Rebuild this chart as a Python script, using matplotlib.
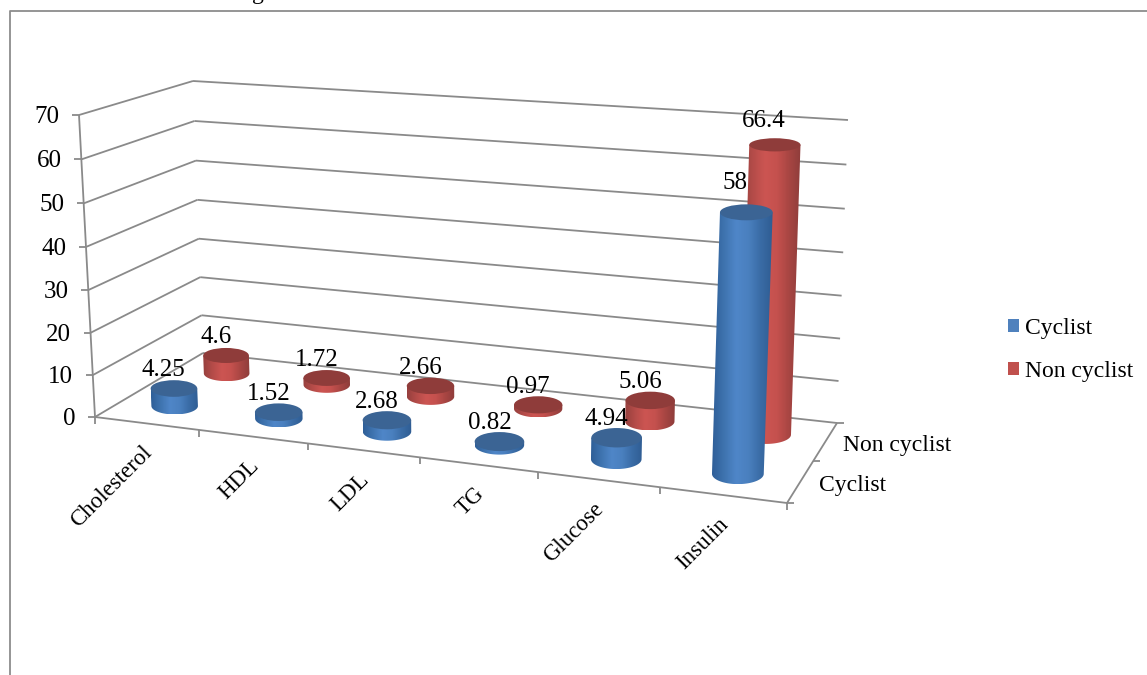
import numpy as np
import matplotlib
matplotlib.use("Agg")
import matplotlib.pyplot as plt
from matplotlib.patches import Ellipse, PathPatch, Patch
from matplotlib.path import Path
from matplotlib.colors import LinearSegmentedColormap

categories = ["Cholesterol", "HDL", "LDL", "TG", "Glucose", "Insulin"]
series_names = ["Cyclist", "Non cyclist"]
cyclist = [4.25, 1.52, 2.68, 0.82, 4.94, 58]
non_cyclist = [4.6, 1.72, 2.66, 0.97, 5.06, 66.4]
value_labels_c = ["4.25", "1.52", "2.68", "0.82", "4.94", "58"]
value_labels_n = ["4.6", "1.72", "2.66", "0.97", "5.06", "66.4"]
y_ticks = [0, 10, 20, 30, 40, 50, 60, 70]

plt.rcParams["font.family"] = ["Liberation Serif", "DejaVu Serif"]
FS = 17
FS_V = 18
GRID = "#8a8a8a"
LW = 1.3


def homography(pix):
    world = [(0, 0), (6, 0), (6, 2), (0, 2)]
    A, b = [], []
    for (X, Y), (u, v) in zip(world, pix):
        A.append([X, Y, 1, 0, 0, 0, -u * X, -u * Y]); b.append(u)
        A.append([0, 0, 0, X, Y, 1, -v * X, -v * Y]); b.append(v)
    return np.append(np.linalg.solve(np.array(A, float), np.array(b, float)), 1).reshape(3, 3)


# Perspective of the chart box: floor plane, plus the screen offset of value 70 at each floor corner
H_FLOOR = homography([(95, 417), (787, 503), (837, 423), (203, 353)])
LIFT = np.array([[(-16, -302), (-10, -272)], [(13, -325), (11, -303)]], float)
ZMAX = 70.0
K = 0.034


def proj(x, y, z):
    t = z / ZMAX
    t = t * (1 - K * (1 - t))
    a = H_FLOOR @ np.array([x, y, 1.0])
    a = a[:2] / a[2]
    u, w = x / 6.0, y / 2.0
    lift = ((1 - u) * (1 - w) * LIFT[0, 0] + (1 - u) * w * LIFT[0, 1]
            + u * (1 - w) * LIFT[1, 0] + u * w * LIFT[1, 1])
    return tuple(a + lift * t)


fig = plt.figure(figsize=(11.47, 6.75), dpi=100, facecolor="white")
ax = fig.add_axes([0, 0, 1, 1])
ax.set_xlim(0, 1147)
ax.set_ylim(675, 0)
ax.axis("off")
ax.set_autoscale_on(False)


def line(p, q, lw=LW, z=1):
    ax.plot([p[0], q[0]], [p[1], q[1]], color=GRID, lw=lw, zorder=z, solid_capstyle="butt")


# outer frame and the text fragment above it
ax.plot([10, 10, 1147], [675, 11, 11], color="#8c8c8c", lw=1.3, zorder=1)
ax.text(252, -1, "g", fontsize=FS, color="black", va="baseline", ha="left", clip_on=False)

# walls / floor
for v in y_ticks:
    a, c, d = proj(0, 0, v), proj(0, 2, v), proj(6, 2, v)
    line(a, c)
    line(c, d)
    line((a[0] - 7, a[1]), a)
    ax.text(a[0] - 19.5, a[1] + 2, str(v), ha="right", va="center", fontsize=FS_V, zorder=6)
line(proj(0, 0, 0), proj(0, 0, 70))
line(proj(0, 0, 0), proj(6, 0, 0), z=2)
line(proj(6, 0, 0), proj(6, 2, 0), z=2)
for i in range(7):
    p = proj(i, 0, 0)
    line(p, (p[0], p[1] + 7), z=2)
for j in range(3):
    p = proj(6, j, 0)
    line(p, (p[0] + 7, p[1]), z=2)

# category and series labels
for i, c in enumerate(categories):
    p = proj(i + 0.5, 0, 0)
    ax.text(p[0] - 5, p[1] + 19, c, rotation=45, rotation_mode="anchor",
            ha="right", va="top", fontsize=16.5, zorder=6)
for j, s in enumerate(series_names):
    p = proj(6, j + 0.5, 0)
    ax.text(p[0] + 18, p[1] + 4, s, ha="left", va="center", fontsize=FS, zorder=6)

blue = LinearSegmentedColormap.from_list("b", ["#2f5f98", "#3f74b0", "#4f86c8", "#4a80bf", "#3a6ca6", "#2f5d93"])
red = LinearSegmentedColormap.from_list("r", ["#97403e", "#b54c49", "#cc5552", "#c5514e", "#a94643", "#8f3d3b"])
grad = np.linspace(0, 1, 64).reshape(1, -1)
RX, RY = 0.2, 0.25


def ellipse_size(x, y, z):
    l, r = proj(x - RX, y, z), proj(x + RX, y, z)
    f, k = proj(x, y - RY, z), proj(x, y + RY, z)
    return 0.6 * abs(r[0] - l[0]) + 22, abs(f[1] - k[1])


def cylinder(x, y, val, cmap, top, zo):
    cb, ct = proj(x, y, 0), proj(x, y, val)
    wb, hb = ellipse_size(x, y, 0)
    wt, ht = ellipse_size(x, y, val)
    th = np.linspace(np.pi, 0, 60)
    low = np.c_[cb[0] + wb / 2 * np.cos(th), cb[1] + hb / 2 * np.sin(th)]
    upp = np.array([[ct[0] + wt / 2, ct[1]], [ct[0] - wt / 2, ct[1]]])
    verts = np.vstack([low, upp, low[:1]])
    codes = [Path.MOVETO] + [Path.LINETO] * (len(verts) - 2) + [Path.CLOSEPOLY]
    clip = PathPatch(Path(verts, codes), transform=ax.transData, fc="none", ec="none")
    ax.add_patch(clip)
    xmin, xmax = verts[:, 0].min(), verts[:, 0].max()
    ymin, ymax = verts[:, 1].min(), verts[:, 1].max()
    im = ax.imshow(grad, cmap=cmap, extent=(xmin, xmax, ymax, ymin), aspect="auto",
                   interpolation="bilinear", zorder=zo)
    im.set_clip_path(clip)
    ax.add_patch(Ellipse(ct, wt, ht, fc=top, ec="none", zorder=zo + 0.01))
    return ct


tops = {}
for i, v in enumerate(non_cyclist):
    tops[(1, i)] = cylinder(i + 0.5, 1.5, v, red, "#8f3c3a", 3 + i * 0.1)
for i, v in enumerate(cyclist):
    tops[(0, i)] = cylinder(i + 0.5, 0.5, v, blue, "#3b6494", 4 + i * 0.1)

for s, (vals, labs, rise) in enumerate([(cyclist, value_labels_c, 0.2), (non_cyclist, value_labels_n, 0.09)]):
    for i, (v, t) in enumerate(zip(vals, labs)):
        ct = tops[(s, i)]
        ax.text(ct[0] - 10 - 0.02 * v, ct[1] - 18 - rise * v, t, ha="center", va="center",
                fontsize=FS_V, zorder=7)

handles = [Patch(fc="#4f81bd", ec="none"), Patch(fc="#c0504d", ec="none")]
ax.legend(handles, series_names, loc="center left", bbox_to_anchor=(1000.5 / 1147, 1 - 350 / 675),
          frameon=False, fontsize=FS, handlelength=0.48, handleheight=0.48, handletextpad=0.27,
          labelspacing=0.95, borderpad=0, borderaxespad=0.3)

fig.savefig("out.png", dpi=100)
